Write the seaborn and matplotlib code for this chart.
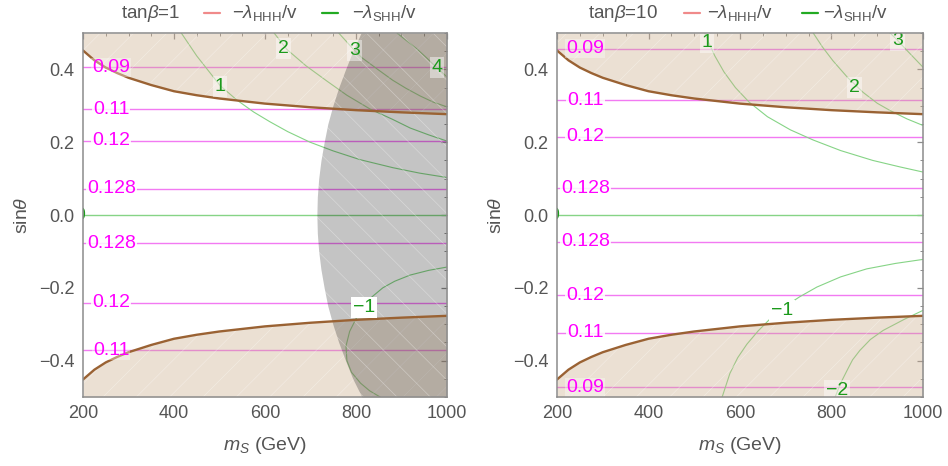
import matplotlib
matplotlib.use("Agg")
import matplotlib.pyplot as plt
from matplotlib.lines import Line2D
from matplotlib.ticker import MultipleLocator
import pandas as pd
import seaborn as sns

# ---------------------------------------------------------------- data
X_MIN, X_MAX = 200, 1000
Y_MIN, Y_MAX = -0.5, 0.5
X_TICKS = [200, 400, 600, 800, 1000]
Y_TICKS = [-0.4, -0.2, 0.0, 0.2, 0.4]
Y_TICK_LABELS = ["\u22120.4", "\u22120.2", "0.0", "0.2", "0.4"]
PANEL_TITLES = ["tan$\\beta$=1", "tan$\\beta$=10"]

# excluded band boundary |sin(theta)| vs m_S (mirrored for sin(theta) < 0)
MS_EDGE = [200, 225, 250, 275, 300, 350, 400, 450, 500, 600, 700, 800, 900, 1000]
SIN_EDGE = [0.452, 0.425, 0.405, 0.390, 0.377, 0.357, 0.340, 0.329, 0.320,
            0.306, 0.296, 0.288, 0.282, 0.277]

# grey region of the tan(beta)=1 panel: lower m_S edge vs sin(theta)
SIN_GRAY = [-0.5, -0.45, -0.4, -0.35, -0.3, -0.25, -0.2, -0.15, -0.1, -0.05, 0.0,
            0.05, 0.1, 0.15, 0.2, 0.25, 0.3, 0.35, 0.4, 0.45, 0.5]
MS_GRAY = [813, 793, 777, 762, 749, 738, 730, 723, 718, 715, 714,
           715, 718, 723, 730, 738, 749, 762, 777, 793, 811]

# -lambda_HHH / v contours (horizontal): value and sin(theta) position
HHH_VAL_1 = ["0.09", "0.11", "0.12", "0.128", "0.128", "0.12", "0.11"]
HHH_SIN_1 = [0.406, 0.290, 0.204, 0.072, -0.078, -0.241, -0.372]
HHH_VAL_10 = ["0.09", "0.11", "0.12", "0.128", "0.128", "0.12", "0.11", "0.09"]
HHH_SIN_10 = [0.457, 0.315, 0.215, 0.074, -0.074, -0.221, -0.324, -0.473]
HHH_LABEL_MS = 262

# -lambda_SHH / v contours, tan(beta)=1
SHH1_P1_M = [416, 450, 501, 538, 575, 611, 650, 699, 750, 809, 881, 940, 1000]
SHH1_P1_S = [0.5, 0.437, 0.356, 0.316, 0.283, 0.256, 0.229, 0.200, 0.176,
             0.152, 0.130, 0.115, 0.103]
SHH1_P2_M = [620, 648, 690, 736, 780, 831, 880, 919, 960, 1000]
SHH1_P2_S = [0.5, 0.455, 0.410, 0.368, 0.329, 0.291, 0.263, 0.239, 0.220, 0.203]
SHH1_P3_M = [762, 796, 813, 850, 881, 910, 941, 970, 1000]
SHH1_P3_S = [0.5, 0.453, 0.432, 0.398, 0.370, 0.348, 0.327, 0.310, 0.297]
SHH1_P4_M = [890, 912, 934, 955, 969, 985, 1000]
SHH1_P4_S = [0.5, 0.478, 0.456, 0.432, 0.415, 0.397, 0.379]
SHH1_M1_M = [1000, 960, 919, 885, 859, 835, 818, 800, 786, 778, 780, 790, 810, 830, 853]
SHH1_M1_S = [-0.143, -0.152, -0.165, -0.182, -0.200, -0.225, -0.252, -0.285,
             -0.320, -0.360, -0.400, -0.432, -0.462, -0.483, -0.5]
SHH1_LAB_TXT = ["1", "2", "3", "4", "\u22121", "0"]
SHH1_LAB_M = [501, 640, 796, 978, 818, 193]
SHH1_LAB_S = [0.354, 0.458, 0.453, 0.405, -0.255, 0.0]
SHH1_LAB_BG = [0.45, 0.45, 0.45, 0.45, 1.0, 0.0]

# -lambda_SHH / v contours, tan(beta)=10
SHH10_P1_M = [523, 530, 545, 565, 590, 620, 660, 710, 760, 820, 890, 950, 1000]
SHH10_P1_S = [0.5, 0.478, 0.437, 0.393, 0.350, 0.310, 0.270, 0.234, 0.206,
              0.177, 0.150, 0.132, 0.118]
SHH10_P2_M = [760, 780, 803, 835, 869, 900, 928, 965, 1000]
SHH10_P2_S = [0.5, 0.462, 0.424, 0.378, 0.337, 0.307, 0.287, 0.264, 0.246]
SHH10_P3_M = [928, 945, 965, 1000]
SHH10_P3_S = [0.5, 0.479, 0.452, 0.406]
SHH10_M1_M = [1000, 940, 877, 820, 768, 730, 700, 670, 640, 615, 595, 578, 561]
SHH10_M1_S = [-0.122, -0.133, -0.148, -0.170, -0.198, -0.225, -0.250, -0.280,
              -0.318, -0.355, -0.392, -0.435, -0.5]
SHH10_M2_M = [1000, 960, 913, 885, 862, 846, 834, 820, 808]
SHH10_M2_S = [-0.262, -0.286, -0.317, -0.342, -0.372, -0.398, -0.427, -0.462, -0.5]
SHH10_LAB_TXT = ["1", "2", "3", "\u22121", "\u22122", "0"]
SHH10_LAB_M = [528, 851, 945, 692, 812, 193]
SHH10_LAB_S = [0.474, 0.350, 0.479, -0.262, -0.482, 0.0]
SHH10_LAB_BG = [0.45, 0.45, 0.45, 1.0, 0.45, 0.0]

# ---------------------------------------------------------------- style
sns.set_theme(style="white")
plt.rcParams["font.family"] = ["Liberation Sans", "DejaVu Sans"]
plt.rcParams["mathtext.fontset"] = "custom"
plt.rcParams["mathtext.rm"] = "Liberation Sans"
plt.rcParams["mathtext.it"] = "Liberation Sans:italic"
plt.rcParams["mathtext.bf"] = "Liberation Sans:bold"
plt.rcParams["hatch.linewidth"] = 0.5

TXT_GRAY = "#555555"
FRAME = "#8c8c8c"
MAGENTA_LINE = "#f27af2"
MAGENTA_TXT = "#ff00ff"
GREEN_LINE = "#86d486"
GREEN_TXT = "#1c9a1c"
BROWN = "#9a6233"
BEIGE = "#ccae8c"
MESH = (1.0, 1.0, 1.0, 0.35)
LEG_PINK = "#f08a8a"
LEG_GREEN = "#22aa22"

W, H = 948, 466
fig = plt.figure(figsize=(W / 100, H / 100), dpi=100)
ax_l = fig.add_axes([83 / W, 1 - 397 / H, 364 / W, 364 / H])
ax_r = fig.add_axes([557 / W, 1 - 397 / H, 366 / W, 364 / H])

edge = pd.DataFrame({"m": MS_EDGE, "s": SIN_EDGE})
edge["s_neg"] = -edge["s"]


def curve(ax, m, s, color, lw, z):
    df = pd.DataFrame({"m": m, "s": s})
    sns.lineplot(data=df, x="m", y="s", ax=ax, sort=False, estimator=None,
                 color=color, lw=lw, zorder=z, legend=False)


def shade_band(ax, lower, upper):
    ax.fill_between(edge["m"], lower, upper, color=BEIGE, alpha=0.38, lw=0, zorder=3)
    ax.fill_between(edge["m"], lower, upper, facecolor="none", edgecolor=MESH,
                    hatch="/", lw=0, zorder=3)


def panel(ax, hhh_val, hhh_sin, shh_curves, lab_txt, lab_m, lab_s, lab_bg, gray):
    # -lambda_HHH contours
    for s in hhh_sin:
        ax.axhline(s, color=MAGENTA_LINE, lw=1.0, zorder=2)
    # -lambda_SHH contours
    ax.axhline(0.0, color=GREEN_LINE, lw=1.0, zorder=2)
    for m, s in shh_curves:
        curve(ax, m, s, GREEN_LINE, 0.8, 2)

    # excluded regions
    shade_band(ax, edge["s"], Y_MAX)
    shade_band(ax, Y_MIN, edge["s_neg"])
    if gray:
        ax.fill_betweenx(SIN_GRAY, MS_GRAY, X_MAX, color="black", alpha=0.23,
                         lw=0, zorder=3)
        ax.fill_betweenx(SIN_GRAY, MS_GRAY, X_MAX, facecolor="none", edgecolor=MESH,
                         hatch="\\", lw=0, zorder=3)
    curve(ax, edge["m"], edge["s"], BROWN, 1.7, 4)
    curve(ax, edge["m"], edge["s_neg"], BROWN, 1.7, 4)

    # contour labels
    for v, s in zip(hhh_val, hhh_sin):
        ax.text(HHH_LABEL_MS, s, v, color=MAGENTA_TXT, fontsize=14,
                ha="center", va="center", zorder=6,
                bbox=dict(boxstyle="square,pad=0.05", fc="white", ec="none",
                          alpha=0.85 if abs(s) < 0.35 else 0.35))
    for t, m, s, bg in zip(lab_txt, lab_m, lab_s, lab_bg):
        kw = {}
        if bg > 0:
            kw["bbox"] = dict(boxstyle="square,pad=0.1", fc="white", ec="none", alpha=bg)
        ax.text(m, s, t, color=GREEN_TXT, fontsize=14, ha="center", va="center",
                zorder=6, clip_on=True, **kw)

    ax.set_xlim(X_MIN, X_MAX)
    ax.set_ylim(Y_MIN, Y_MAX)
    ax.set_xticks(X_TICKS)
    ax.set_yticks(Y_TICKS)
    ax.set_yticklabels(Y_TICK_LABELS)
    ax.xaxis.set_minor_locator(MultipleLocator(50))
    ax.yaxis.set_minor_locator(MultipleLocator(0.05))
    ax.tick_params(which="both", direction="in", top=True, right=True,
                   color=FRAME, labelcolor=TXT_GRAY, labelsize=13)
    ax.tick_params(which="major", length=4.5, width=0.9, pad=6)
    ax.tick_params(which="minor", length=2.5, width=0.7)
    for sp in ax.spines.values():
        sp.set_color(FRAME)
        sp.set_linewidth(1.1)
        sp.set_zorder(7)
    ax.set_xlabel("$m_S$ (GeV)", fontsize=14, color=TXT_GRAY, labelpad=9)
    ax.set_ylabel("sin$\\theta$", fontsize=14, color=TXT_GRAY, labelpad=6)
    ax.set_facecolor("white")


panel(ax_l, HHH_VAL_1, HHH_SIN_1,
      [(SHH1_P1_M, SHH1_P1_S), (SHH1_P2_M, SHH1_P2_S), (SHH1_P3_M, SHH1_P3_S),
       (SHH1_P4_M, SHH1_P4_S), (SHH1_M1_M, SHH1_M1_S)],
      SHH1_LAB_TXT, SHH1_LAB_M, SHH1_LAB_S, SHH1_LAB_BG, gray=True)
panel(ax_r, HHH_VAL_10, HHH_SIN_10,
      [(SHH10_P1_M, SHH10_P1_S), (SHH10_P2_M, SHH10_P2_S), (SHH10_P3_M, SHH10_P3_S),
       (SHH10_M1_M, SHH10_M1_S), (SHH10_M2_M, SHH10_M2_S)],
      SHH10_LAB_TXT, SHH10_LAB_M, SHH10_LAB_S, SHH10_LAB_BG, gray=False)


# legends above each panel
def header(x_title, x_sw1, x_t1, x_sw2, x_t2, title):
    y = 1 - 13 / H
    fig.text(x_title / W, y, title, fontsize=13.5, color=TXT_GRAY, ha="left", va="center")
    fig.add_artist(Line2D([x_sw1 / W, (x_sw1 + 16) / W], [y, y], color=LEG_PINK, lw=1.6))
    fig.text(x_t1 / W, y, "$-\\lambda_{\\mathrm{HHH}}/\\mathrm{v}$", fontsize=13.5,
             color=TXT_GRAY, ha="left", va="center")
    fig.add_artist(Line2D([x_sw2 / W, (x_sw2 + 16) / W], [y, y], color=LEG_GREEN, lw=1.6))
    fig.text(x_t2 / W, y, "$-\\lambda_{\\mathrm{SHH}}/\\mathrm{v}$", fontsize=13.5,
             color=TXT_GRAY, ha="left", va="center")


header(121, 204, 232, 322, 352, PANEL_TITLES[0])
header(588, 684, 707, 802, 823, PANEL_TITLES[1])

fig.savefig("out.png", dpi=100)
